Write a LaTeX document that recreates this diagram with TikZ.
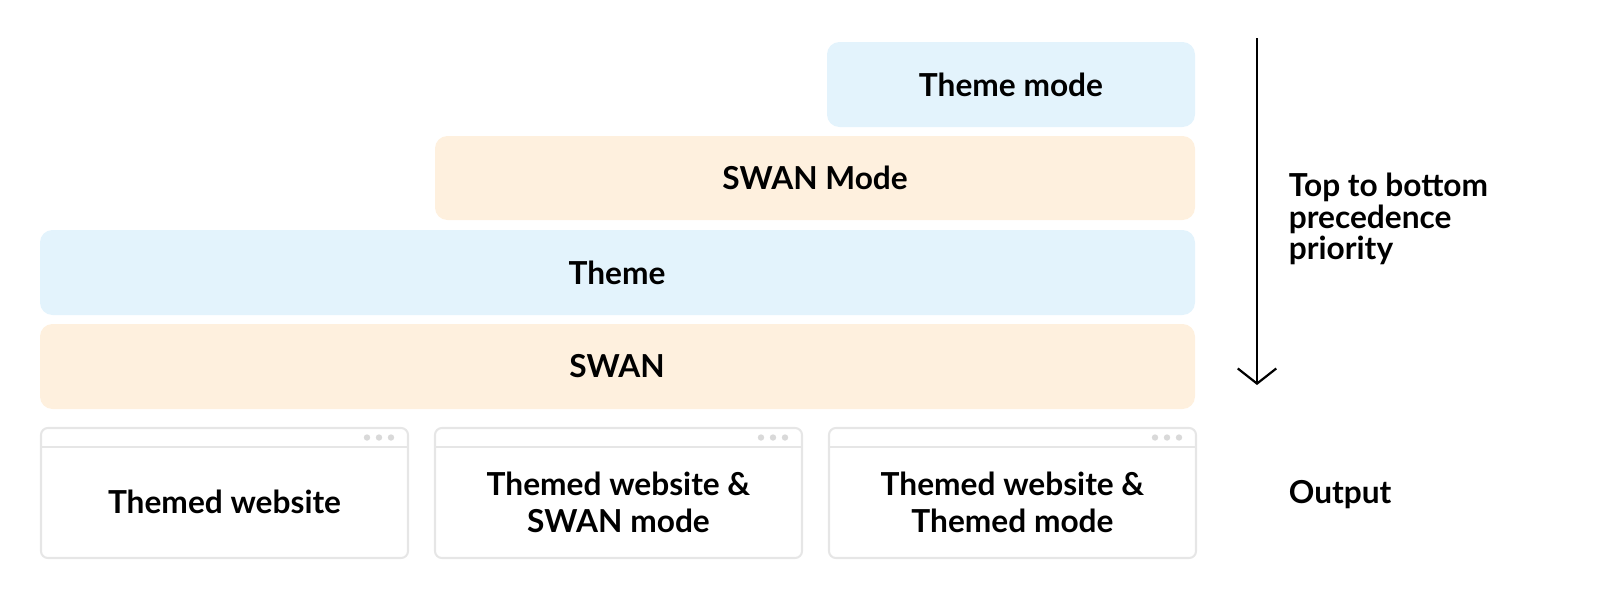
\documentclass[tikz,border=0pt]{standalone}
\usepackage{fontspec}
\setmainfont{Lato}
\usetikzlibrary{arrows.meta,positioning}
\definecolor{skyfill}{HTML}{E3F3FC}
\definecolor{sandfill}{HTML}{FEF0DE}
\definecolor{frameline}{HTML}{E6E6E6}
\definecolor{dotgray}{HTML}{D9D9D9}
\begin{document}
\begin{tikzpicture}[x=0.02555cm,y=-0.02555cm,
    layer/.style={rounded corners=9pt,font=\fontsize{23}{27}\selectfont\bfseries},
    label/.style={font=\fontsize{23}{27}\selectfont\bfseries,align=left,anchor=west},
    window/.style={draw=frameline,line width=1.5pt,rounded corners=5pt}]
        % Precedence layers
        \fill[skyfill,layer] (827,42) rectangle (1195,127);
        \node[layer] (thememode) at (1011,84.5) {Theme mode};
        \fill[sandfill,layer] (435,136) rectangle (1195,220);
        \node[layer] (swanmode) at (815,178) {SWAN Mode};
        \fill[skyfill,layer] (40,230) rectangle (1195,315);
        \node[layer] (theme) at (617,272.5) {Theme};
        \fill[sandfill,layer] (40,324) rectangle (1195,409);
        \node[layer] (swan) at (617,366.5) {SWAN};

        % Output windows
        \foreach \x/\name/\txt in {41/site/{Themed website},
                435/siteswan/{Themed website \&\\SWAN mode},
                829/sitemode/{Themed website \&\\Themed mode}} {
            \draw[window] (\x,428) rectangle (\x+367,558);
            \draw[frameline,line width=1.5pt] (\x,447) -- (\x+367,447);
            \foreach \d in {0,12,24}
                \fill[dotgray] (\x+326+\d,437.5) circle (3.2);
            \node[layer,align=center] (\name) at (\x+183.5,502) {\txt};
        }

        % Precedence arrow
        \coordinate (top) at (1257,38);
        \coordinate (bottom) at (1257,385);
        \draw[line width=1.6pt,-{Straight Barb[length=11pt,width=28pt,line width=1.6pt]}] (top) -- (bottom);
        \node[label] (prio) at (1284,219) {Top to bottom\\[-4pt]precedence\\[-4pt]priority};
        \node[label] (output) at (1284,495) {Output};

        % Bounding box
        \pgfresetboundingbox
        \useasboundingbox (0,0) rectangle (1600,612);
\end{tikzpicture}
\end{document}
